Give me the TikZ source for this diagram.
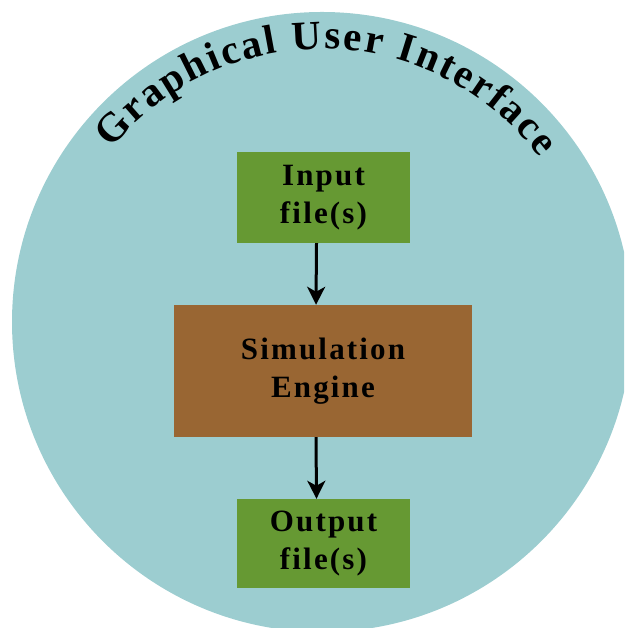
\documentclass[tikz,border=0pt]{standalone}
\usepackage{fontspec}
\setmainfont{Liberation Serif}
\usetikzlibrary{arrows.meta,decorations.text}
\definecolor{guibg}{RGB}{156,205,208}
\definecolor{filegreen}{RGB}{102,153,51}
\definecolor{enginebrown}{RGB}{153,102,51}
\newfontfamily\boxfont[LetterSpace=7]{Liberation Serif Bold}
\newfontfamily\arcfont{Liberation Serif Bold}
\newcommand\arcsize{\arcfont\fontsize{41}{41}\selectfont}
\tikzset{
  filebox/.style={fill=filegreen, draw=none, minimum width=173pt, minimum height=91pt, align=center, font=\boxfont\fontsize{31}{37.5}\selectfont, inner sep=0pt},
  enginebox/.style={fill=enginebrown, draw=none, minimum width=298pt, minimum height=132pt, align=center, font=\boxfont\fontsize{31}{38.5}\selectfont, inner sep=0pt},
  flow/.style={line width=3pt, -{Stealth[length=18pt,width=18pt,inset=5pt]}}
}
\begin{document}
\begin{tikzpicture}[x=1pt,y=1pt]
\useasboundingbox (0,0) rectangle (624,628);
\begin{scope}
\clip (0,0) rectangle (624,628);
\fill[guibg] (322,306) circle (310);
\end{scope}
\coordinate (gc) at (322,306);
\path[decorate, decoration={text along path, text align=fit to path,
  text={|\arcsize|Graphical User Interface}}]
  (gc) ++(140.5:273) arc (140.5:37:273);
\node[filebox] (in) at (323.5,430.5) {Input\\file(s)};
\node[enginebox] (sim) at (323,257) {Simulation\\Engine};
\node[filebox, minimum height=89pt] (out) at (323.5,84.5) {Output\\file(s)};
\draw[flow] ([xshift=-7pt]in.south) -- ([xshift=-7pt]sim.north);
\draw[flow] ([xshift=-7pt]sim.south) -- ([xshift=-7pt]out.north);
\end{tikzpicture}
\end{document}
